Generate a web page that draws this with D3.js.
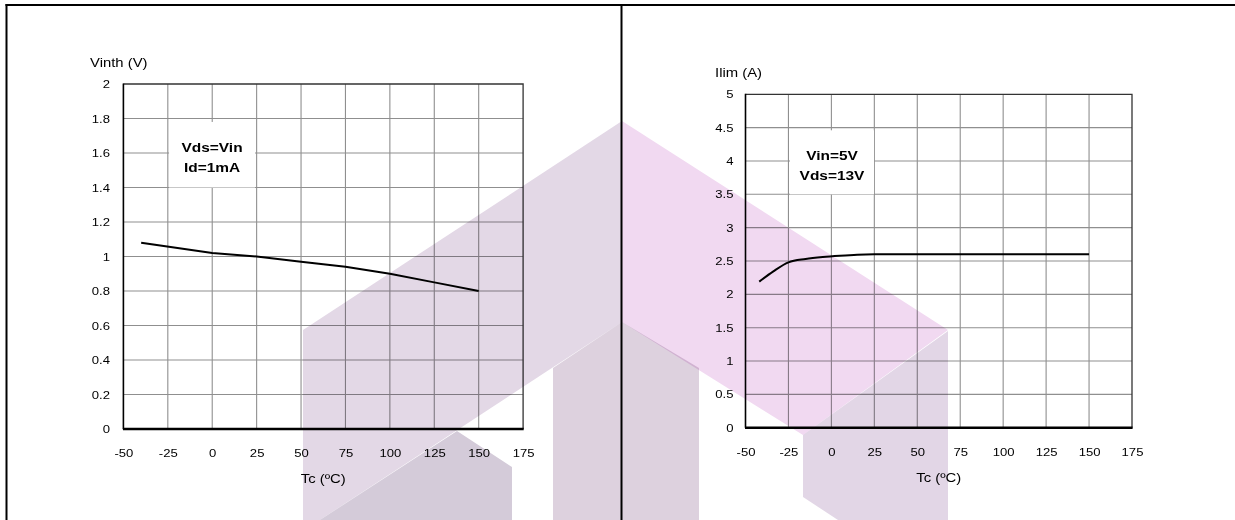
<!DOCTYPE html>
<html>
<head>
<meta charset="utf-8">
<script src="https://cdn.jsdelivr.net/npm/d3@7"></script>
<style>
  html, body { margin: 0; padding: 0; background: #fff; }
  svg { display: block; }
</style>
</head>
<body>
<svg id="chart" width="1235" height="520"></svg>
<script>
// ---------------- data ----------------
const tempTicks   = [-50, -25, 0, 25, 50, 75, 100, 125, 150, 175];
const vinthTicks  = [0, 0.2, 0.4, 0.6, 0.8, 1, 1.2, 1.4, 1.6, 1.8, 2];
const ilimTicks   = [0, 0.5, 1, 1.5, 2, 2.5, 3, 3.5, 4, 4.5, 5];

const vinthTemp   = [-40, 0, 25, 50, 75, 100, 125, 150];
const vinthValues = [1.08, 1.02, 1.0, 0.97, 0.94, 0.90, 0.85, 0.80];

const ilimTemp    = [-42, -34, -25, -15, -5, 5, 15, 25, 50, 75, 100, 125, 150];
const ilimValues  = [2.19, 2.34, 2.48, 2.53, 2.56, 2.58, 2.595, 2.6, 2.6, 2.6, 2.6, 2.6, 2.6];

const vinthTitle  = "Vinth (V)";
const ilimTitle   = "Ilim (A)";
const tempTitle   = "Tc (ºC)";
const vinthNotes  = ["Vds=Vin", "Id=1mA"];
const ilimNotes   = ["Vin=5V", "Vds=13V"];

// ---------------- layout / style ----------------
const SX = 1.19;  // horizontal text stretch seen in the reference
const FONT = "'Liberation Sans', Arial, Helvetica, sans-serif";
const svg = d3.select("#chart");

svg.append("rect").attr("width", 1235).attr("height", 520).attr("fill", "#fff");

// outer frame
const frame = svg.append("g").attr("stroke", "#000").attr("stroke-width", 2);
frame.append("line").attr("x1", 5.5).attr("x2", 1235).attr("y1", 5).attr("y2", 5);
frame.append("line").attr("x1", 6.5).attr("x2", 6.5).attr("y1", 4).attr("y2", 520);
frame.append("line").attr("x1", 621.5).attr("x2", 621.5).attr("y1", 4).attr("y2", 520);

function stext(g, x, y, str, o = {}) {
  return g.append("text")
    .attr("transform", `translate(${x},${y}) scale(${SX},1)`)
    .attr("text-anchor", o.anchor || "start")
    .attr("font-family", FONT)
    .attr("font-size", o.size || 12.5)
    .attr("font-weight", o.weight || "normal")
    .attr("fill", o.fill || "#000")
    .text(str);
}

const fmt = d => String(d);

function panel(cfg) {
  const { x, y, yTicks, temps, vals, title, titleDx, notes, noteBox, yPad, curve } = cfg;
  const g = svg.append("g");
  const [x0, x1] = x.range();
  const [y0, y1] = y.range();

  // grid
  g.append("g").selectAll("line")
    .data(tempTicks.slice(1, -1)).join("line")
    .attr("x1", d => x(d)).attr("x2", d => x(d))
    .attr("y1", y0).attr("y2", y1)
    .attr("stroke", "#8f8f8f").attr("stroke-width", 1.1);
  g.append("g").selectAll("line")
    .data(yTicks.slice(1, -1)).join("line")
    .attr("x1", x0).attr("x2", x1)
    .attr("y1", d => y(d)).attr("y2", d => y(d))
    .attr("stroke", "#8f8f8f").attr("stroke-width", 1.1);

  // annotation box (white, hides grid)
  g.append("rect")
    .attr("x", x(noteBox[0])).attr("y", y(noteBox[3]))
    .attr("width", x(noteBox[1]) - x(noteBox[0]))
    .attr("height", y(noteBox[2]) - y(noteBox[3]))
    .attr("fill", "#fff");
  const cx = (x(noteBox[0]) + x(noteBox[1])) / 2;
  notes.forEach((t, i) => {
    stext(g, cx, y(noteBox[3]) + 30 + i * 20, t, { anchor: "middle", size: 13, weight: "bold", fill: "#000" });
  });

  // frame top / right
  g.append("path")
    .attr("d", `M${x0},${y1}H${x1}V${y0}`)
    .attr("fill", "none").attr("stroke", "#333").attr("stroke-width", 1.3);

  // tick labels via d3 axes
  const ax = g.append("g").attr("transform", `translate(0,${y0})`)
    .call(d3.axisBottom(x).tickValues(tempTicks).tickSize(0).tickPadding(20).tickFormat(fmt));
  ax.select(".domain").remove();
  ax.attr("font-family", FONT).attr("font-size", 11);
  ax.selectAll("text").attr("fill", "#000").attr("transform", `scale(${SX},1)`);

  const ay = g.append("g").attr("transform", `translate(${x0},0)`)
    .call(d3.axisLeft(y).tickValues(yTicks).tickSize(0).tickPadding(yPad).tickFormat(fmt));
  ay.select(".domain").remove();
  ay.attr("font-family", FONT).attr("font-size", 11);
  ay.selectAll("text").attr("fill", "#000").attr("transform", `scale(${SX},1)`);

  // main axis lines
  g.append("line").attr("x1", x0).attr("x2", x0).attr("y1", y1 - 0.5).attr("y2", y0)
    .attr("stroke", "#000").attr("stroke-width", 1.6);
  g.append("line").attr("x1", x0 - 0.5).attr("x2", x1 + 0.6).attr("y1", y0).attr("y2", y0)
    .attr("stroke", "#000").attr("stroke-width", 2.6);

  // data line
  const line = d3.line().x(d => x(d[0])).y(d => y(d[1])).curve(curve || d3.curveLinear);
  g.append("path")
    .datum(temps.map((t, i) => [t, vals[i]]))
    .attr("d", line)
    .attr("fill", "none").attr("stroke", "#000").attr("stroke-width", 2)
    .attr("stroke-linejoin", "round");

  // titles
  stext(g, x0 + titleDx, y1 - 17.5, title, { size: 12.5 });
  stext(g, (x0 + x1) / 2, y0 + 54, tempTitle, { anchor: "middle", size: 12.5 });
}

panel({
  x: d3.scaleLinear().domain([-50, 175]).range([123.4, 523.1]),
  y: d3.scaleLinear().domain([0, 2]).range([429, 84]),
  yTicks: vinthTicks, temps: vinthTemp, vals: vinthValues,
  title: vinthTitle, titleDx: -33.4, notes: vinthNotes,
  noteBox: [-24.3, 24.1, 1.40, 1.78], yPad: 11.3
});

panel({
  x: d3.scaleLinear().domain([-50, 175]).range([745.5, 1132]),
  y: d3.scaleLinear().domain([0, 5]).range([427.7, 94.3]),
  yTicks: ilimTicks, temps: ilimTemp, vals: ilimValues,
  title: ilimTitle, titleDx: -30.5, notes: ilimNotes,
  noteBox: [-24.1, 24.8, 3.5, 4.46], yPad: 10.1,
  curve: d3.curveMonotoneX
});

// ---------------- watermark (decoration) ----------------
const watermark = [
  { fill: "#e3d8e6", pts: [[303,330],[622,121],[622,322],[303,531]] },
  { fill: "#f1d9f1", pts: [[622,121],[948,330],[803,435],[622,322]] },
  { fill: "#ddd1de", pts: [[553,368],[622,322],[699,368],[699,520],[553,520]] },
  { fill: "#d4cbd9", pts: [[303,531],[457,431],[512,467],[512,520],[303,520]] },
  { fill: "#e2d6e6", pts: [[803,435],[948,331],[948,520],[838,520],[803,497]] }
];
svg.append("g")
  .selectAll("path").data(watermark).join("path")
  .attr("d", d => "M" + d.pts.map(p => p.join(",")).join("L") + "Z")
  .attr("fill", d => d.fill)
  .style("mix-blend-mode", "multiply");
</script>
</body>
</html>
